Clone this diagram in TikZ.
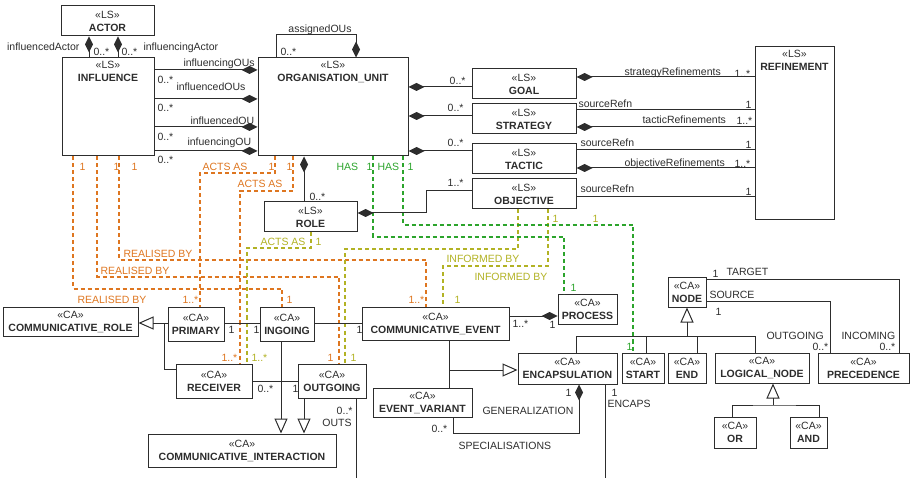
\documentclass[tikz,border=0pt]{standalone}
\usepackage{fontspec}
\setmainfont{Liberation Sans}
\usetikzlibrary{arrows.meta}

\definecolor{umlline}{RGB}{45,45,45}
\definecolor{actorange}{RGB}{222,118,32}
\definecolor{infolive}{RGB}{178,178,36}
\definecolor{hasgreen}{RGB}{44,164,44}

\begin{document}
\begin{tikzpicture}[x=1pt,y=-1pt,
    font=\fontsize{10.5}{13}\selectfont, color=umlline, line width=1pt,
    cls/.style={draw, fill=white, align=center, inner sep=1pt},
    top/.style={anchor=north, align=center, inner sep=3.5pt},
    lab/.style={inner sep=0pt, text height=7.5pt, text depth=0pt, anchor=west},
    comp/.style={-{Diamond[length=16pt,width=8pt]}},
    gen/.style={-{Triangle[open,length=15pt,width=13pt]}},
    acts/.style={actorange, line width=1.1pt, dash pattern=on 4pt off 3pt},
    informed/.style={infolive, line width=1.1pt, dash pattern=on 4pt off 3pt},
    has/.style={hasgreen, line width=1.1pt, dash pattern=on 4pt off 3pt}]
      \useasboundingbox (0,0) rectangle (910,478);

      \node[cls, minimum width=93, minimum height=30] (actor) at (107.5,21) {«LS»\\\textbf{ACTOR}};
      \node[cls, minimum width=92, minimum height=98, label={[top]north:{«LS»\\\textbf{INFLUENCE}}}] (influence) at (108,107) {};
      \node[cls, minimum width=150, minimum height=98, label={[top]north:{«LS»\\\textbf{ORGANISATION\_UNIT}}}] (org) at (333,107) {};
      \node[cls, minimum width=104, minimum height=30] (goal) at (524,84) {«LS»\\\textbf{GOAL}};
      \node[cls, minimum width=104, minimum height=30] (strategy) at (524,119) {«LS»\\\textbf{STRATEGY}};
      \node[cls, minimum width=104, minimum height=30] (tactic) at (524,159) {«LS»\\\textbf{TACTIC}};
      \node[cls, minimum width=104, minimum height=30] (objective) at (524,194) {«LS»\\\textbf{OBJECTIVE}};
      \node[cls, minimum width=79, minimum height=173, label={[top]north:{«LS»\\\textbf{REFINEMENT}}}] (refinement) at (794.5,133.5) {};
      \node[cls, minimum width=93, minimum height=30] (role) at (310.5,217) {«LS»\\\textbf{ROLE}};

      \node[cls, minimum width=135, minimum height=29] (commrole) at (70.5,321.5) {«CA»\\\textbf{COMMUNICATIVE\_ROLE}};
      \node[cls, minimum width=56, minimum height=34] (primary) at (196,324) {«CA»\\\textbf{PRIMARY}};
      \node[cls, minimum width=54, minimum height=34] (ingoing) at (287,324) {«CA»\\\textbf{INGOING}};
      \node[cls, minimum width=76, minimum height=34] (receiver) at (214,381) {«CA»\\\textbf{RECEIVER}};
      \node[cls, minimum width=68, minimum height=34] (outgoing) at (332,381) {«CA»\\\textbf{OUTGOING}};
      \node[cls, minimum width=188, minimum height=33] (comminter) at (242,450.5) {«CA»\\\textbf{COMMUNICATIVE\_INTERACTION}};
      \node[cls, minimum width=147, minimum height=33] (commevent) at (435.5,323.5) {«CA»\\\textbf{COMMUNICATIVE\_EVENT}};
      \node[cls, minimum width=59, minimum height=29] (process) at (587.5,309.5) {«CA»\\\textbf{PROCESS}};
      \node[cls, minimum width=99, minimum height=31] (encaps) at (567.5,368.5) {«CA»\\\textbf{ENCAPSULATION}};
      \node[cls, minimum width=99, minimum height=29] (eventvar) at (422.5,402.5) {«CA»\\\textbf{EVENT\_VARIANT}};
      \node[cls, minimum width=38, minimum height=29] (node) at (687,292.5) {«CA»\\\textbf{NODE}};
      \node[cls, minimum width=42, minimum height=30] (start) at (643,368) {«CA»\\\textbf{START}};
      \node[cls, minimum width=38, minimum height=30] (end) at (687,368) {«CA»\\\textbf{END}};
      \node[cls, minimum width=94, minimum height=30] (logical) at (762,368) {«CA»\\\textbf{LOGICAL\_NODE}};
      \node[cls, minimum width=91, minimum height=30] (precedence) at (863.5,368) {«CA»\\\textbf{PRECEDENCE}};
      \node[cls, minimum width=42, minimum height=31] (or) at (735,432.5) {«CA»\\\textbf{OR}};
      \node[cls, minimum width=37, minimum height=31] (and) at (808.5,432.5) {«CA»\\\textbf{AND}};

      \draw[acts] (influence.south -| 73,0) |- (282,289) -- (ingoing.north -| 282,0);
      \draw[acts] (influence.south -| 97,0) |- (339,277) -- (outgoing.north -| 339,0);
      \draw[acts] (influence.south -| 119,0) |- (426,260) -- (commevent.north -| 426,0);
      \draw[acts] (org.south -| 275,0) |- (200,173) -- (primary.north -| 200,0);
      \draw[acts] (org.south -| 293,0) |- (240,191) -- (receiver.north -| 240,0);
      \draw[informed] (role.south -| 311,0) |- (247,248) -- (receiver.north -| 247,0);
      \draw[informed] (objective.south -| 518,0) |- (345,249) -- (outgoing.north -| 345,0);
      \draw[informed] (objective.south -| 548,0) |- (443,266) -- (commevent.north -| 443,0);
      \draw[has] (org.south -| 373,0) |- (564,237) -- (process.north -| 564,0);
      \draw[has] (org.south -| 403,0) |- (633,225) -- (start.north -| 633,0);

      \node[lab, actorange] (ld1) at (79,167) {1};
      \node[lab, actorange] (ld2) at (113,167) {1};
      \node[lab, actorange] (ld3) at (131,167) {1};
      \node[lab, actorange] (ld4) at (77,300) {REALISED BY};
      \node[lab, actorange] (ld5) at (286,300) {1};
      \node[lab, actorange] (ld6) at (100,271) {REALISED BY};
      \node[lab, actorange] (ld7) at (327,358) {1};
      \node[lab, actorange] (ld8) at (123,254) {REALISED BY};
      \node[lab, actorange] (ld9) at (408,300) {1..*};
      \node[lab, actorange] (ld10) at (202,167) {ACTS AS};
      \node[lab, actorange] (ld11) at (268,167) {1};
      \node[lab, actorange] (ld12) at (182,300) {1..*};
      \node[lab, actorange] (ld13) at (237,184) {ACTS AS};
      \node[lab, actorange] (ld14) at (286,167) {1};
      \node[lab, actorange] (ld15) at (221,358) {1..*};
      \node[lab, infolive] (ld16) at (260,242) {ACTS AS};
      \node[lab, infolive] (ld17) at (315,242) {1};
      \node[lab, infolive] (ld18) at (251,358) {1..*};
      \node[lab, infolive] (ld19) at (446,259) {INFORMED BY};
      \node[lab, infolive] (ld20) at (350,358) {1};
      \node[lab, infolive] (ld21) at (474,277) {INFORMED BY};
      \node[lab, infolive] (ld22) at (454,300) {1};
      \node[lab, infolive] (ld23) at (552,219) {1};
      \node[lab, infolive] (ld24) at (592,219) {1};
      \node[lab, hasgreen] (ld25) at (336,167) {HAS};
      \node[lab, hasgreen] (ld26) at (366,167) {1};
      \node[lab, hasgreen] (ld27) at (377,167) {HAS};
      \node[lab, hasgreen] (ld28) at (407,167) {1};
      \node[lab, hasgreen] (ld29) at (570,288) {1};
      \node[lab, hasgreen] (ld30) at (626,347) {1};

      \draw[comp] (influence.north -| 89,0) -- (actor.south -| 89,0);
      \draw[comp] (influence.north -| 118,0) -- (actor.south -| 118,0);
      \node[lab, anchor=east] (la1) at (80,47) {influencedActor};
      \node[lab] (la2) at (93,52) {0..*};
      \node[lab] (la3) at (121,52) {0..*};
      \node[lab] (la4) at (143,47) {influencingActor};

      \draw[comp] (org.north -| 276,0) -- (276,35) -- (356,35) -- (org.north -| 356,0);
      \node[lab, anchor=center] (la5) at (320,29) {assignedOUs};
      \node[lab] (la6) at (280,52) {0..*};

      \draw[comp] (influence.east |- 0,70) -- (org.west |- 0,70);
      \draw[comp] (influence.east |- 0,99) -- (org.west |- 0,99);
      \draw[comp] (influence.east |- 0,127) -- (org.west |- 0,127);
      \draw[comp] (influence.east |- 0,151) -- (org.west |- 0,151);
      \node[lab] (li1) at (183,63) {influencingOUs};
      \node[lab] (li2) at (157,80) {0..*};
      \node[lab] (li3) at (176,87) {influencedOUs};
      \node[lab] (li4) at (157,108) {0..*};
      \node[lab] (li5) at (190,121) {influencedOU};
      \node[lab] (li6) at (157,137) {0..*};
      \node[lab] (li7) at (187,142) {infuencingOU};
      \node[lab] (li8) at (157,160) {0..*};

      \draw[comp] (goal.west |- 0,87) -- (org.east |- 0,87);
      \draw[comp] (strategy.west |- 0,116) -- (org.east |- 0,116);
      \draw[comp] (tactic.west |- 0,151) -- (org.east |- 0,151);
      \draw[comp] (objective.west |- 0,191) -- (426,191) |- (role.east |- 0,213);
      \draw[comp] (role.north -| 304,0) -- (org.south -| 304,0);
      \node[lab, anchor=east] (lo1) at (466,81) {0..*};
      \node[lab, anchor=east] (lo2) at (464,108) {0..*};
      \node[lab, anchor=east] (lo3) at (464,143) {0..*};
      \node[lab, anchor=east] (lo4) at (464,183) {1..*};
      \node[lab] (lo5) at (309,197) {0..*};

      \draw[comp] (refinement.west |- 0,77) -- (goal.east |- 0,77);
      \draw (strategy.east |- 0,110) -- (refinement.west |- 0,110);
      \draw[comp] (refinement.west |- 0,127) -- (strategy.east |- 0,127);
      \draw (tactic.east |- 0,150) -- (refinement.west |- 0,150);
      \draw[comp] (refinement.west |- 0,168) -- (tactic.east |- 0,168);
      \draw (objective.east |- 0,197) -- (refinement.west |- 0,197);
      \node[lab] (lr1) at (624,72) {strategyRefinements};
      \node[lab] (lr2) at (734,74) {1..*};
      \node[lab] (lr3) at (578,104) {sourceRefn};
      \node[lab] (lr4) at (745,105) {1};
      \node[lab] (lr5) at (642,120) {tacticRefinements};
      \node[lab] (lr6) at (736,121) {1..*};
      \node[lab] (lr7) at (580,143) {sourceRefn};
      \node[lab] (lr8) at (745,145) {1};
      \node[lab] (lr9) at (624,163) {objectiveRefinements};
      \node[lab] (lr10) at (734,164) {1..*};
      \node[lab] (lr11) at (580,189) {sourceRefn};
      \node[lab] (lr12) at (745,192) {1};

      \draw[gen] (primary.west |- 0,323) -- (commrole.east |- 0,323);
      \draw (receiver.west |- 0,369) -| (164,323);
      \draw (primary.east |- 0,323) -- (ingoing.west |- 0,323);
      \draw (ingoing.east |- 0,323) -- (commevent.west |- 0,323);
      \draw (receiver.east |- 0,381) -- (outgoing.west |- 0,381);
      \draw[gen] (ingoing.south -| 281,0) -- (comminter.north -| 281,0);
      \draw[gen] (outgoing.south -| 304,0) -- (comminter.north -| 304,0);
      \coordinate (outsend) at (356,478);
      \draw (outgoing.south -| outsend) -- (outsend);
      \node[lab] (lb1) at (228,330) {1};
      \node[lab] (lb2) at (253,330) {1};
      \node[lab] (lb3) at (356,330) {1};
      \node[lab] (lb4) at (257,389) {0..*};
      \node[lab] (lb5) at (292,389) {1};
      \node[lab, anchor=east] (lb6) at (353,411) {0..*};
      \node[lab, anchor=east] (lb7) at (352,423) {OUTS};

      \draw[comp] (commevent.east |- 0,316) -- (process.west |- 0,316);
      \coordinate (cejoin) at (449,370);
      \draw (commevent.south -| cejoin) -- (eventvar.north -| cejoin);
      \draw[gen] (cejoin) -- (encaps.west |- cejoin);
      \draw[comp] (eventvar.south -| 453,0) |- (579,433) -- (encaps.south -| 579,0);
      \coordinate (encapsend) at (605,478);
      \draw (encaps.south -| encapsend) -- (encapsend);
      \node[lab] (lb8) at (512,324) {1..*};
      \node[lab] (lb9) at (549,325) {1};
      \node[lab] (lb10) at (565,393) {1};
      \node[lab] (lb11) at (482,411) {GENERALIZATION};
      \node[lab] (lb12) at (431,429) {0..*};
      \node[lab] (lb13) at (458,446) {SPECIALISATIONS};
      \node[lab] (lb14) at (611,393) {1};
      \node[lab] (lb15) at (607,404) {ENCAPS};

      \coordinate (nodejoin) at (687,336);
      \draw[gen] (nodejoin) -- (node.south);
      \draw (encaps.north -| 576,0) |- (755,336) -- (logical.north -| 755,0);
      \draw (start.north -| 646,0) -- (646,336);
      \draw (end.north -| 697,0) -- (697,336);
      \coordinate (lgjoin) at (773,405);
      \draw[gen] (lgjoin) -- (logical.south -| lgjoin);
      \draw (or.north -| 732,0) |- (lgjoin) -| (and.north -| 819,0);
      \draw (node.east |- 0,280) -| (precedence.north -| 899,0);
      \draw (node.east |- 0,302) -| (precedence.north -| 830,0);
      \node[lab] (ln1) at (712,274) {1};
      \node[lab] (ln2) at (726,272) {TARGET};
      \node[lab] (ln3) at (709,295) {SOURCE};
      \node[lab] (ln4) at (715,312) {1};
      \node[lab] (ln5) at (766,336) {OUTGOING};
      \node[lab] (ln6) at (812,347) {0..*};
      \node[lab] (ln7) at (841,336) {INCOMING};
      \node[lab] (ln8) at (879,347) {0..*};
    \end{tikzpicture}
\end{document}
